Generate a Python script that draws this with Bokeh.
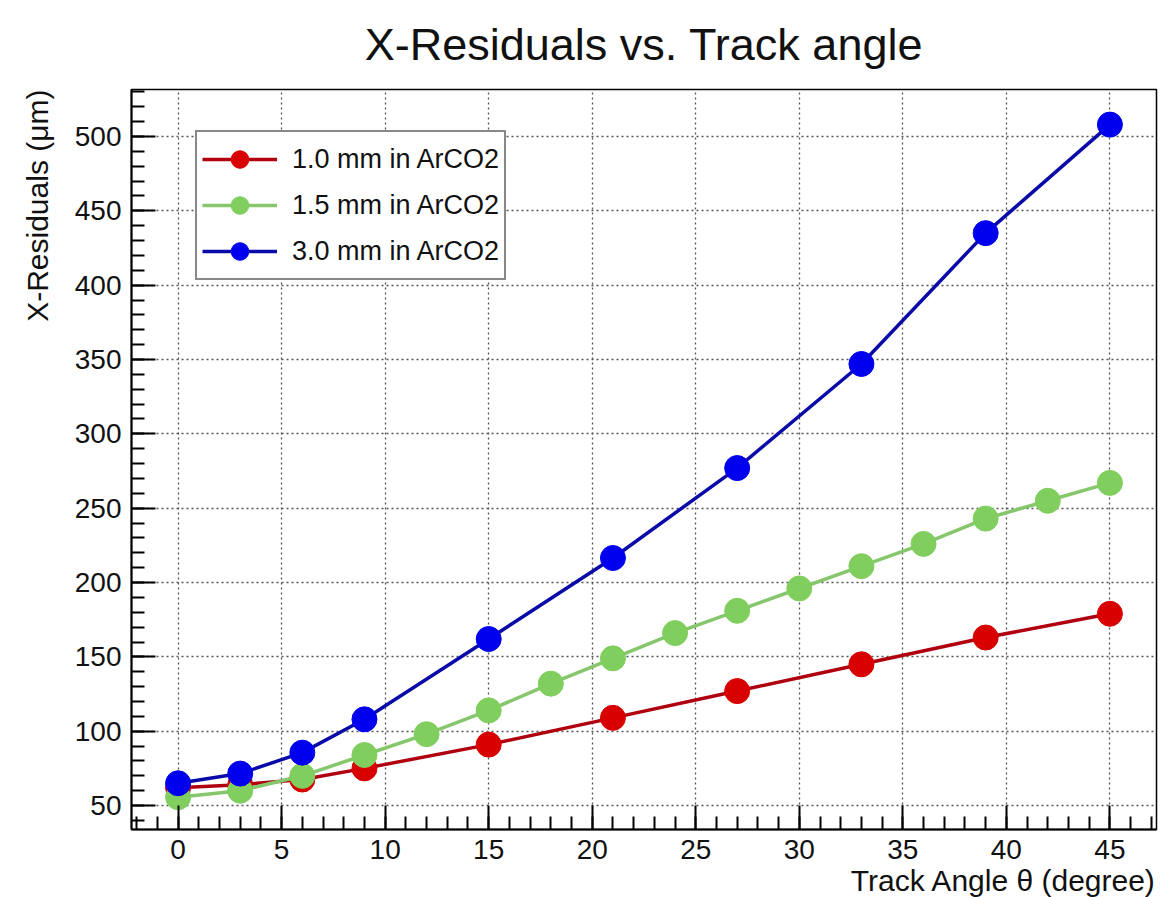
from bokeh.plotting import figure
from bokeh.models import Range1d, SingleIntervalTicker, Legend, Title
from bokeh.embed import file_html
from bokeh.resources import INLINE

# ---- data ----
angle_red = [0, 3, 6, 9, 15, 21, 27, 33, 39, 45]
res_red = [62, 64, 67.5, 75, 91, 109, 127, 145, 163, 179]

angle_green = [0, 3, 6, 9, 12, 15, 18, 21, 24, 27, 30, 33, 36, 39, 42, 45]
res_green = [55.6, 60, 70, 84, 98, 114, 132, 149, 166, 181, 196, 211, 226, 243, 255, 267]

angle_blue = [0, 3, 6, 9, 15, 21, 27, 33, 39, 45]
res_blue = [65, 71.5, 85.6, 108, 162, 216.5, 277, 347, 435, 508]

labels = ["1.0 mm in ArCO2", "1.5 mm in ArCO2", "3.0 mm in ArCO2"]
title_text = "X-Residuals vs. Track angle"
xlabel_text = "Track Angle \u03b8 (degree)"
ylabel_text = "X-Residuals (\u03bcm)"

FONT = "Liberation Sans"

p = figure(width=1173, height=897, output_backend="svg", toolbar_location=None,
           x_range=Range1d(-2.25, 47.25), y_range=Range1d(33.9, 531.6),
           min_border_left=131, min_border_right=17, min_border_top=88, min_border_bottom=68)
p.background_fill_color = "white"
p.border_fill_color = "white"
p.outline_line_color = "black"
p.outline_line_width = 1.5

# axes
p.xaxis.ticker = SingleIntervalTicker(interval=5, num_minor_ticks=5)
p.yaxis.ticker = SingleIntervalTicker(interval=50, num_minor_ticks=5)
for ax in (p.xaxis[0], p.yaxis[0]):
    ax.axis_line_color = "black"
    ax.axis_line_width = 2
    ax.major_tick_in = 24
    ax.major_tick_out = 0
    ax.minor_tick_in = 13
    ax.minor_tick_out = 0
    ax.major_tick_line_width = 2
    ax.minor_tick_line_width = 2
    ax.major_tick_line_color = "black"
    ax.minor_tick_line_color = "black"
    ax.major_label_text_font = FONT
    ax.major_label_text_font_size = "28px"
    ax.major_label_text_color = "#111111"
p.yaxis.major_label_standoff = 10
p.xaxis.major_label_standoff = 10

for g in (p.xgrid[0], p.ygrid[0]):
    g.grid_line_color = "#555555"
    g.grid_line_dash = "2 3"
    g.grid_line_width = 1.3

# series (red, green, blue drawing order)
series = [
    (angle_red, res_red, "#d80000", "#b00010", labels[0]),
    (angle_green, res_green, "#80cf5e", "#86c66c", labels[1]),
    (angle_blue, res_blue, "#0000ee", "#0a0aa8", labels[2]),
]
items = []
for xs, ys, mcol, lcol, lab in series:
    r1 = p.line(xs, ys, line_color=lcol, line_width=3.5)
    r2 = p.scatter(xs, ys, marker="circle", size=25, fill_color=mcol, line_color=mcol)
    items.append((lab, [r1, r2]))

legend = Legend(items=items, location=(64, 549))
legend.label_text_font = FONT
legend.label_text_font_size = "27px"
legend.label_text_color = "#111111"
legend.glyph_width = 75
legend.glyph_height = 44
legend.label_height = 44
legend.spacing = 2
legend.padding = 5
legend.margin = 0
legend.label_standoff = 15
legend.border_line_color = "#111111"
legend.border_line_width = 2
legend.background_fill_color = "white"
legend.background_fill_alpha = 1.0
p.add_layout(legend, "center")

# title and axis titles
p.title.text = title_text
p.title.align = "center"
p.title.vertical_align = "top"
p.title.text_font = FONT
p.title.text_font_size = "45px"
p.title.text_font_style = "normal"
p.title.text_color = "#111111"
p.title.standoff = 36

p.add_layout(Title(text=xlabel_text, align="right", text_font=FONT, text_font_size="30px",
                   text_font_style="normal", text_color="#111111", standoff=0), "below")
p.add_layout(Title(text=ylabel_text, align="right", text_font=FONT, text_font_size="30px",
                   text_font_style="normal", text_color="#111111", standoff=36), "left")

open("out.html", "w").write(file_html(p, INLINE))
